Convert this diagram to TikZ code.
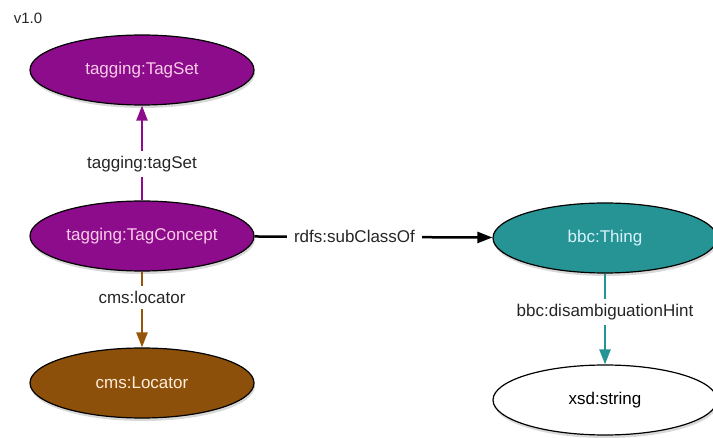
\documentclass[tikz,border=0pt]{standalone}
\usepackage{fontspec}
\setmainfont{Liberation Sans}
\usetikzlibrary{shapes.geometric, positioning, arrows.meta, shadows}
\definecolor{tagpurple}{RGB}{140,12,140}
\definecolor{cmsbrown}{RGB}{140,80,10}
\definecolor{bbcteal}{RGB}{38,148,148}
\tikzset{
>={Triangle[length=15pt,width=11pt]}, % filled arrow heads
x=1pt, y=-1pt, % one unit is one pixel of the reference
every node/.style={font=\fontsize{17}{20}\selectfont}, % sans text everywhere
class/.style={ellipse, draw=black, line width=1.2pt, minimum width=224pt, minimum height=70pt, inner sep=0pt,
  drop shadow={shadow xshift=1pt, shadow yshift=-3pt, opacity=0.3}}, % every class ellipse
prop/.style={fill=white, inner xsep=7pt, inner ysep=5pt, text=black!85}, % labels on the edges
link/.style={->, line width=2.5pt}, % the edges
}

\begin{document}
\begin{tikzpicture}
        \useasboundingbox (0,0) rectangle (713,438);
        \node[text=black!85, font=\fontsize{15}{18}\selectfont] (ver) at (28,18) {v1.0};

        \node[class, fill=tagpurple, text=magenta!20] (tc) at (142,236) {tagging:TagConcept};
        \node[class, fill=tagpurple, text=magenta!20, above of=tc, node distance=166pt] (ts) {tagging:TagSet};
        \node[class, fill=cmsbrown, text=orange!15, below of=tc, node distance=147pt] (loc) {cms:Locator};
        \node[class, fill=bbcteal, text=cyan!15, right of=tc, node distance=463pt, yshift=-2pt] (thing) {bbc:Thing};
        \node[class, fill=white, text=black, below of=thing, node distance=162pt] (str) {xsd:string};

        \draw[link, tagpurple] (tc) -- node[prop, pos=0.38]{tagging:tagSet} (ts);
        \draw[link, cmsbrown!90!orange] (tc) -- node[prop, pos=0.34]{cms:locator} (loc);
        \draw[link, black] (tc) -- node[prop, pos=0.42]{rdfs:subClassOf} (thing);
        \draw[link, bbcteal] (thing) -- node[prop, pos=0.42]{bbc:disambiguationHint} (str);
      \end{tikzpicture}
\end{document}
